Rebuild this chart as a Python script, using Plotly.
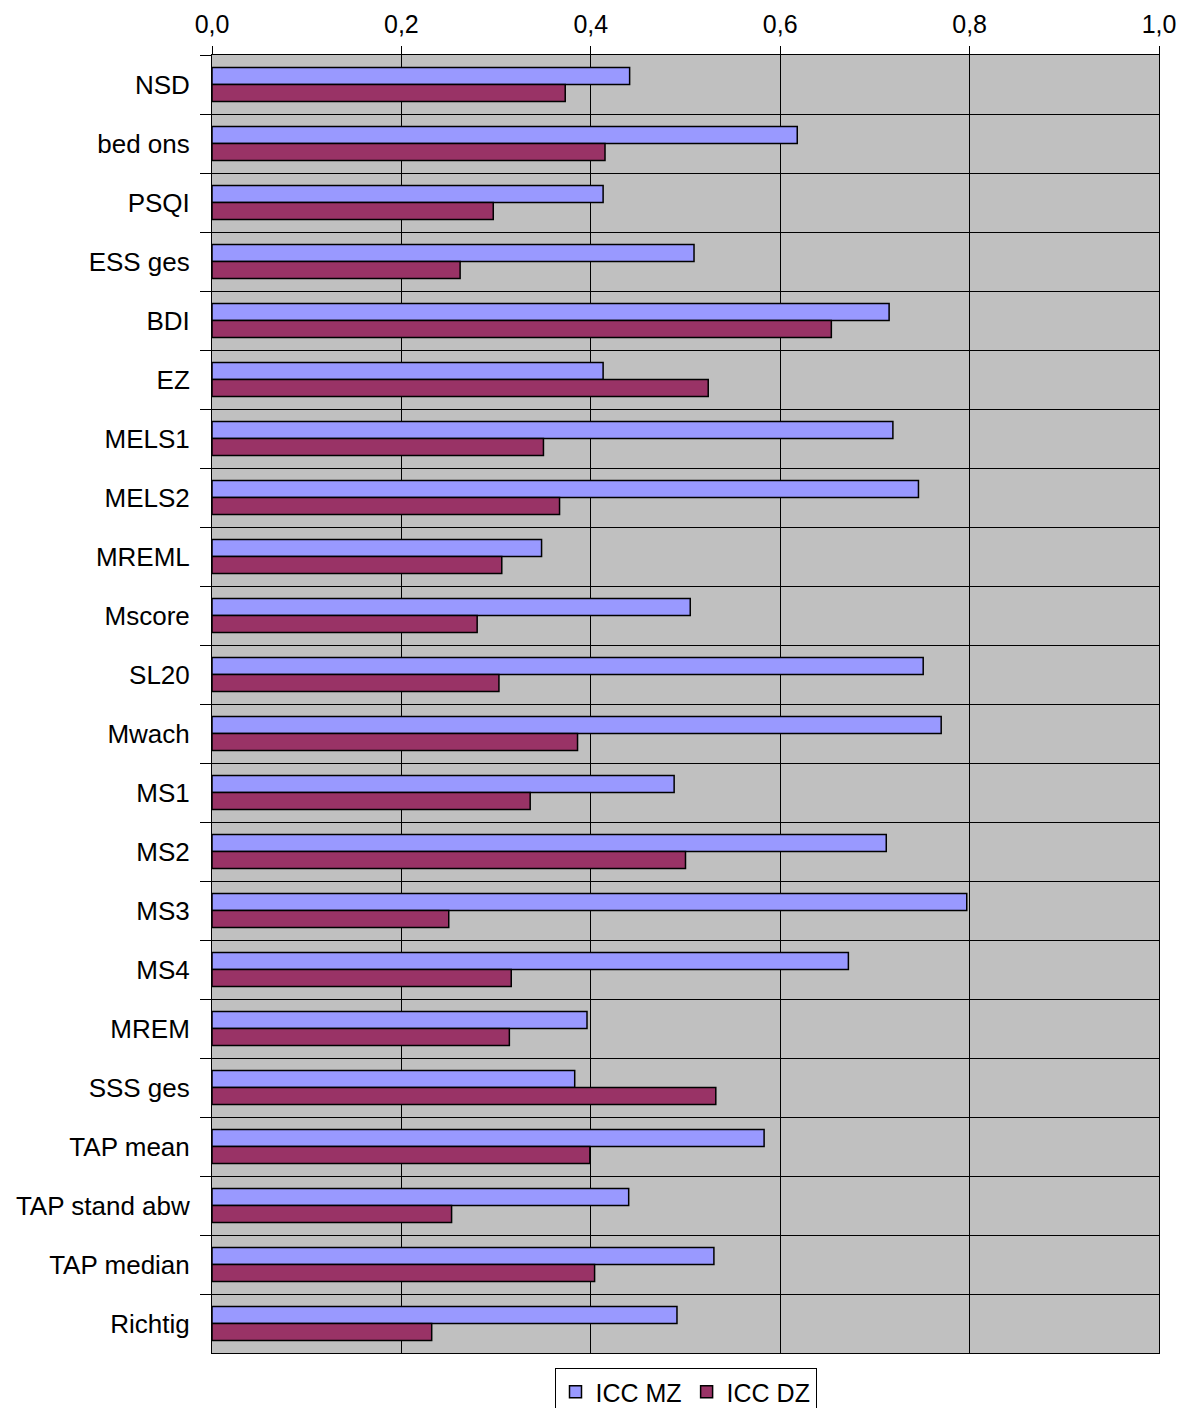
import plotly.graph_objects as go

categories = ["NSD", "bed ons", "PSQI", "ESS ges", "BDI", "EZ", "MELS1", "MELS2",
              "MREML", "Mscore", "SL20", "Mwach", "MS1", "MS2", "MS3", "MS4",
              "MREM", "SSS ges", "TAP mean", "TAP stand abw", "TAP median", "Richtig"]
icc_mz = [0.441, 0.618, 0.413, 0.509, 0.715, 0.413, 0.719, 0.746,
          0.348, 0.505, 0.751, 0.770, 0.488, 0.712, 0.797, 0.672,
          0.396, 0.383, 0.583, 0.440, 0.530, 0.491]
icc_dz = [0.373, 0.415, 0.297, 0.262, 0.654, 0.524, 0.350, 0.367,
          0.306, 0.280, 0.303, 0.386, 0.336, 0.500, 0.250, 0.316,
          0.314, 0.532, 0.399, 0.253, 0.404, 0.232]
series_names = ["ICC MZ", "ICC DZ"]
x_ticks = [0.0, 0.2, 0.4, 0.6, 0.8, 1.0]

font_family = "Liberation Sans, Arial, sans-serif"

fig = go.Figure()
fig.add_trace(go.Bar(y=categories, x=icc_mz, name=series_names[0], orientation="h",
                     marker=dict(color="#9999FF", line=dict(color="black", width=1.5))))
fig.add_trace(go.Bar(y=categories, x=icc_dz, name=series_names[1], orientation="h",
                     marker=dict(color="#993366", line=dict(color="black", width=1.5))))

fig.update_layout(
    width=1188, height=1408,
    margin=dict(l=212, r=29, t=55, b=55, autoexpand=False),
    paper_bgcolor="white",
    plot_bgcolor="#C0C0C0",
    barmode="group",
    bargap=0.42,
    bargroupgap=0,
    separators=",.",
    font=dict(family=font_family, size=25, color="black"),
    showlegend=True,
    legend=dict(orientation="h", x=0.5, xanchor="center", y=-0.0116, yanchor="top",
                bgcolor="white", bordercolor="black", borderwidth=1,
                font=dict(size=25), traceorder="normal", itemwidth=30),
    xaxis=dict(side="top", range=[0, 1], tickvals=x_ticks, tickformat=".1f",
               tickfont=dict(size=25),
               showgrid=True, gridcolor="black", gridwidth=1,
               ticks="outside", ticklen=8, tickcolor="black",
               ticklabelstandoff=3,
               showline=True, linecolor="black", linewidth=1, mirror=True,
               zeroline=False, fixedrange=True),
    yaxis=dict(autorange="reversed", type="category", tickson="boundaries",
               tickfont=dict(size=26),
               showgrid=True, gridcolor="black", gridwidth=1,
               ticks="outside", ticklen=11, tickcolor="black",
               ticklabelstandoff=16,
               showline=True, linecolor="black", linewidth=1, mirror=True,
               fixedrange=True),
)

fig.write_html("out.html")
